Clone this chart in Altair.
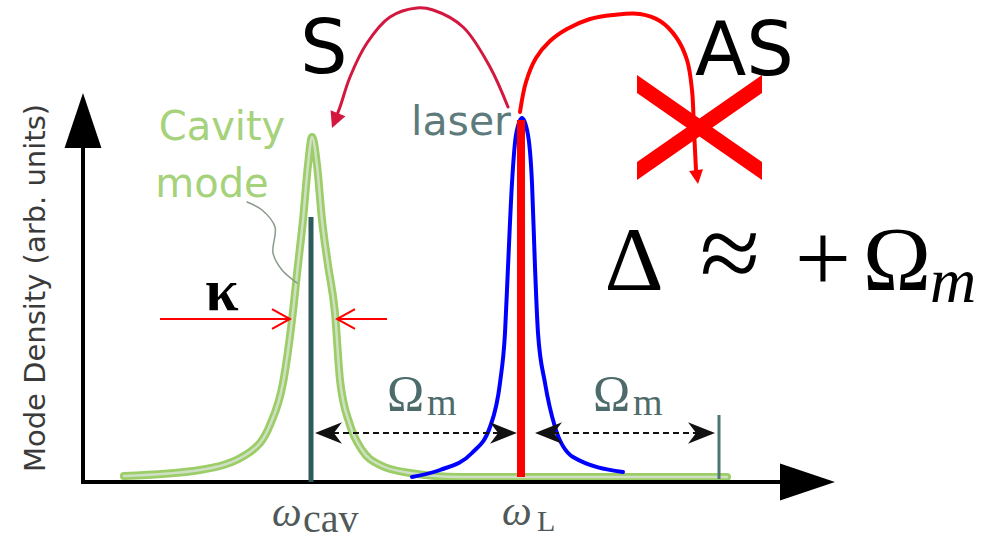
import altair as alt
import pandas as pd

# Canvas in diagram units (one unit = one pixel), y grows downward
CANVAS_W, CANVAS_H = 983, 542
XS = alt.Scale(domain=[0, CANVAS_W], nice=False, zero=False)
YS = alt.Scale(domain=[0, CANVAS_H], nice=False, zero=False, reverse=True)
X = alt.X("x:Q", scale=XS, axis=None)
Y = alt.Y("y:Q", scale=YS, axis=None)

# ---- spectral anchors --------------------------------------------------
omega_cav = 311          # cavity resonance
omega_L = 521            # pump laser
omega_as = 719           # anti-Stokes sideband
baseline = 482           # frequency axis
axis_origin_x = 83
axis_top = 93
axis_right = 835

# ---- cavity mode density (green) ----------------------------------------
cav_x = [124, 200, 250, 270, 283, 292, 298, 303, 308, 312, 317, 322, 328, 335,
         340, 350, 362, 380, 410, 460, 727]
cav_y = [476, 470, 452, 425, 383, 320, 265, 220, 165, 137, 165, 220, 265, 313,
         380, 425, 450, 465, 473, 477, 477]

# ---- laser line profile (blue) -----------------------------------------
laser_x = [412, 440, 472, 490, 500, 505, 508, 512, 516, 522, 528, 532, 535, 538,
           545, 555, 573, 623]
laser_y = [477, 470, 453, 427, 383, 333, 267, 183, 135, 118, 135, 183, 267, 333,
           383, 427, 457, 472]

# ---- leader from the "Cavity mode" label to the peak ---------------------
leader_x = [247, 262, 275, 273, 282, 297]
leader_y = [202, 210, 227, 253, 270, 283]

# ---- scattering arrows ---------------------------------------------------
stokes_x = [508, 490, 463, 433, 417, 390, 367, 350, 340, 335]
stokes_y = [107, 67, 27, 10, 8, 17, 43, 77, 107, 120]
stokes_tip = (332, 128)

antistokes_x = [520, 526, 536, 550, 567, 590, 613, 640, 660, 676, 687, 692, 694, 696]
antistokes_y = [112, 82, 58, 41, 29, 19, 15, 14, 21, 37, 60, 90, 130, 170]
antistokes_tip = (698, 184)

cross_center = (699.5, 127.5)

# ---- linewidth marker -----------------------------------------------------
kappa_y = 319
kappa_left = (160, 290)
kappa_right = (387, 337)

# ---- Omega_m spacing arrows --------------------------------------------
omega_m_y = 433
omega_m_spans = [(omega_cav + 4, omega_L - 4), (omega_L + 14, omega_as - 4)]

# Symbol outlines (unit box, tip at origin where it matters)
HEAD_DOWN = "M0,0L-1,-2L1,-2Z"
HEAD_UP_BIG = "M0,0L-0.67,2L0.67,2Z"
HEAD_RIGHT_BIG = "M0,0L-2,-0.67L-2,0.67Z"
STEALTH_RIGHT = "M0,0L-2,-0.8L-1.4,0L-2,0.8Z"
CHEVRON_RIGHT = "M-1,-0.55L0,0L-1,0.55"
CROSS = "M-1,-0.84L1,0.552L1,0.84L-1,-0.552Z M-1,0.84L-1,0.552L1,-0.84L1,-0.552Z"


def curve(xs, ys, color, width, interp="monotone", opacity=1.0):
    df = pd.DataFrame({"x": xs, "y": ys, "i": list(range(len(xs)))})
    return alt.Chart(df).mark_line(
        color=color, strokeWidth=width, interpolate=interp,
        strokeCap="round", strokeJoin="round", opacity=opacity,
    ).encode(x=X, y=Y, order="i:Q")


def segment(x1, y1, x2, y2, color, width, dash=None):
    df = pd.DataFrame({"x": [x1], "y": [y1], "x2": [x2], "y2": [y2]})
    kw = dict(color=color, strokeWidth=width, strokeCap="butt")
    if dash:
        kw["strokeDash"] = dash
    return alt.Chart(df).mark_rule(**kw).encode(
        x=X, y=Y, x2=alt.X2("x2:Q"), y2=alt.Y2("y2:Q"))


def symbol(x, y, path, size, color, angle=0, filled=True, width=0):
    df = pd.DataFrame({"x": [x], "y": [y]})
    kw = dict(shape=path, size=size, filled=filled, opacity=1, angle=angle)
    if filled:
        kw.update(fill=color, strokeWidth=0)
    else:
        kw.update(stroke=color, strokeWidth=width)
    return alt.Chart(df).mark_point(**kw).encode(x=X, y=Y)


def label(x, y, text, size, color, font="DejaVu Sans", align="center",
          baseline_="alphabetic", angle=0, style="normal", weight="normal"):
    df = pd.DataFrame({"x": [x], "y": [y], "t": [text]})
    return alt.Chart(df).mark_text(
        font=font, fontSize=size, color=color, align=align,
        baseline=baseline_, angle=angle, fontStyle=style, fontWeight=weight,
    ).encode(x=X, y=Y, text="t:N")


layers = []

# Cavity mode: green band with a pale core
layers.append(curve(cav_x, cav_y, "#9ccd66", 8))
layers.append(curve(cav_x, cav_y, "#cfe0c6", 2.5))
layers.append(curve(leader_x, leader_y, "#8c9a8c", 1.5, interp="catmull-rom"))

# Axes
layers.append(segment(axis_origin_x, baseline + 2, axis_origin_x, axis_top + 40, "black", 4))
layers.append(segment(axis_origin_x - 2, baseline, axis_right - 40, baseline, "black", 4))
layers.append(symbol(axis_origin_x, axis_top, HEAD_UP_BIG, 3025, "black"))
layers.append(symbol(axis_right, baseline, HEAD_RIGHT_BIG, 3025, "black"))

# Resonance markers
layers.append(segment(omega_cav, 217, omega_cav, baseline, "#2d5a5a", 5))
layers.append(segment(omega_as, 415, omega_as, baseline - 3, "#4e7474", 3))

# Laser profile and laser line
layers.append(curve(laser_x, laser_y, "#0000ff", 4))
layers.append(segment(omega_L, 120, omega_L, 477, "#ff0000", 8))

# Omega_m spacing arrows
for a, b in omega_m_spans:
    layers.append(segment(a + 8, omega_m_y, b - 8, omega_m_y, "#111111", 2, dash=[6, 4]))
    layers.append(symbol(a, omega_m_y, STEALTH_RIGHT, 729, "#111111", angle=180))
    layers.append(symbol(b, omega_m_y, STEALTH_RIGHT, 729, "#111111"))

# kappa linewidth arrows
layers.append(segment(kappa_left[0], kappa_y, kappa_left[1], kappa_y, "#ff0000", 2))
layers.append(segment(kappa_right[0], kappa_y, kappa_right[1], kappa_y, "#ff0000", 2))
layers.append(symbol(kappa_left[1], kappa_y, CHEVRON_RIGHT, 1296, "#ff0000", filled=False, width=2))
layers.append(symbol(kappa_right[1], kappa_y, CHEVRON_RIGHT, 1296, "#ff0000", angle=180,
                     filled=False, width=2))

# Stokes / anti-Stokes arrows
layers.append(curve(stokes_x, stokes_y, "#d3173f", 3, interp="catmull-rom"))
layers.append(symbol(stokes_tip[0], stokes_tip[1], HEAD_DOWN, 256, "#d3173f", angle=22))
layers.append(curve(antistokes_x, antistokes_y, "#ff0000", 4, interp="catmull-rom"))
layers.append(symbol(antistokes_tip[0], antistokes_tip[1], HEAD_DOWN, 196, "#ff0000", angle=352))
layers.append(symbol(cross_center[0], cross_center[1], CROSS, 15625, "#ff0000"))

# Text
layers.append(label(300, 73, "S", 75, "black", align="left"))
layers.append(label(695, 75, "AS", 75, "black", align="left"))
layers.append(label(411, 135, "laser", 41, "#5e7b7b", align="left"))
layers.append(label(222, 140, "Cavity", 40, "#a5d27a"))
layers.append(label(212, 197, "mode", 40, "#a5d27a"))
layers.append(label(36, 288, "Mode Density (arb. units)", 29, "#3a3a3a",
                    baseline_="middle", angle=270))
layers.append(label(222, 310, "κ", 60, "black", font="Liberation Serif", weight="bold"))

for x0 in (387, 593):
    layers.append(label(x0, 410, "Ω", 50, "#4d6b6b", font="Liberation Serif", align="left"))
    layers.append(label(x0 + 40, 415, "m", 38, "#4d6b6b", font="Liberation Serif", align="left"))

layers.append(label(272, 526, "ω", 42, "#505858", font="Liberation Serif", align="left", style="italic"))
layers.append(label(303, 532, "cav", 40, "#505858", font="Liberation Serif", align="left"))
layers.append(label(502, 525, "ω", 42, "#505858", font="Liberation Serif", align="left", style="italic"))
layers.append(label(537, 531, "L", 30, "#505858", font="Liberation Serif", align="left"))

layers.append(label(634, 290, "Δ", 92, "black", font="Liberation Serif"))
layers.append(label(730, 290, "≈", 110, "black", font="Liberation Serif"))
layers.append(label(823, 292, "+", 100, "black", font="Liberation Serif"))
layers.append(label(897, 290, "Ω", 92, "black", font="Liberation Serif"))
layers.append(label(953, 302, "m", 64, "black", font="Liberation Serif", style="italic"))

chart = alt.layer(*layers).properties(
    width=CANVAS_W, height=CANVAS_H, padding=0,
    autosize=alt.AutoSizeParams(type="none"), background="white",
).configure_view(stroke=None)

chart.save("out.html", embed_options={"renderer": "svg", "actions": False})
